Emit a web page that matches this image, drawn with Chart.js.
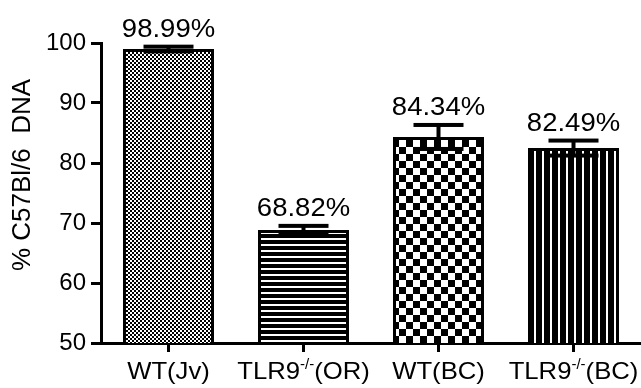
<!DOCTYPE html>
<html lang="en">
<head>
  <meta charset="UTF-8" />
  <title>% C57Bl/6 DNA</title>
  <script src="https://cdn.jsdelivr.net/npm/chart.js"></script>
  <style>
    body { margin: 0; background: #fff; }
    .wrap { width: 641px; height: 388px; position: relative; }
  </style>
</head>
<body>
  <div class="wrap"><canvas id="dnaChart"></canvas></div>

  <script>
    // data
    const groupNames = ['WT', 'TLR9', 'WT', 'TLR9'];
    const groupSups = ['', '-/-', '', '-/-'];
    const groupTails = ['(Jv)', '(OR)', '(BC)', '(BC)'];
    const percents = [98.99, 68.82, 84.34, 82.49];
    const sems = [0.4, 0.7, 2.0, 1.25];
    const yTicks = [50, 60, 70, 80, 90, 100];
    const yTitle = '% C57Bl/6  DNA';

    const FONT = "'Liberation Sans', Arial, sans-serif";
    const canvas = document.getElementById('dnaChart');

    function makePattern(w, h, draw) {
      const c = document.createElement('canvas');
      c.width = w; c.height = h;
      const g = c.getContext('2d');
      g.fillStyle = '#fff';
      g.fillRect(0, 0, w, h);
      g.fillStyle = '#000';
      draw(g);
      return canvas.getContext('2d').createPattern(c, 'repeat');
    }

    const fills = [
      makePattern(4, 4, g => { g.fillRect(0, 0, 2, 2); g.fillRect(2, 2, 2, 2); }),
      makePattern(6, 6, g => { g.fillRect(0, 0, 6, 4); }),
      makePattern(14, 14, g => { g.fillRect(0, 0, 7, 7); g.fillRect(7, 7, 7, 7); }),
      makePattern(8, 8, g => { g.fillRect(0, 0, 6, 8); })
    ];

    // error bars, value labels, category labels with superscripts, y title
    const annotate = {
      id: 'annotate',
      afterDatasetsDraw(chart) {
        const ctx = chart.ctx;
        const y = chart.scales.y;
        const meta = chart.getDatasetMeta(0);
        ctx.save();
        ctx.fillStyle = '#000';

        meta.data.forEach((bar, i) => {
          const top = y.getPixelForValue(percents[i] + sems[i]);
          const bot = y.getPixelForValue(percents[i] - sems[i]);
          ctx.fillRect(bar.x - 2, top, 4, bot - top);
          ctx.fillRect(bar.x - 25, top - 2, 50, 4);
          ctx.fillRect(bar.x - 25, bot - 2, 50, 4);

          ctx.save();
          ctx.translate(bar.x, top - 10);
          ctx.scale(1.1, 1);
          ctx.font = '25px ' + FONT;
          ctx.textAlign = 'center';
          ctx.textBaseline = 'alphabetic';
          ctx.fillText(percents[i].toFixed(2) + '%', 0, 0);
          ctx.restore();

          // category label
          const base = '24px ' + FONT, small = '14px ' + FONT;
          ctx.font = base;
          const w1 = ctx.measureText(groupNames[i]).width;
          const w3 = ctx.measureText(groupTails[i]).width;
          ctx.font = small;
          const w2 = groupSups[i] ? ctx.measureText(groupSups[i]).width : 0;
          const total = w1 + w2 + w3;
          ctx.save();
          ctx.translate(bar.x, 379);
          ctx.scale(1.07, 1);
          ctx.textAlign = 'left';
          let x = -total / 2;
          ctx.font = base;
          ctx.fillText(groupNames[i], x, 0);
          x += w1;
          if (groupSups[i]) {
            ctx.font = small;
            ctx.fillText(groupSups[i], x, -10);
            x += w2;
          }
          ctx.font = base;
          ctx.fillText(groupTails[i], x, 0);
          ctx.restore();
        });

        ctx.save();
        ctx.translate(23, 175);
        ctx.rotate(-Math.PI / 2);
        ctx.font = '26px ' + FONT;
        ctx.textAlign = 'center';
        ctx.textBaseline = 'middle';
        ctx.fillText(yTitle, 0, 0);
        ctx.restore();

        ctx.restore();
      }
    };

    new Chart(canvas, {
      type: 'bar',
      data: {
        labels: groupNames.map((n, i) => n + groupSups[i] + groupTails[i]),
        datasets: [{
          data: percents,
          backgroundColor: fills,
          borderColor: '#000',
          borderWidth: 3,
          borderSkipped: false,
          categoryPercentage: 1,
          barPercentage: 0.674
        }]
      },
      options: {
        responsive: true,
        maintainAspectRatio: false,
        animation: false,
        layout: { padding: { top: 43, left: 0, right: 0, bottom: 0 } },
        plugins: { legend: { display: false }, tooltip: { enabled: false } },
        scales: {
          x: {
            ticks: { display: false },
            grid: { offset: false, drawOnChartArea: false, drawTicks: true, tickLength: 9, tickWidth: 3, tickColor: '#000' },
            border: { color: '#000', width: 3 },
            afterFit: s => { s.height = 45; }
          },
          y: {
            min: 50,
            max: 100,
            afterBuildTicks: s => { s.ticks = yTicks.map(v => ({ value: v })); },
            ticks: { color: '#000', padding: 5, font: { family: FONT, size: 24 } },
            grid: { drawOnChartArea: false, drawTicks: true, tickLength: 10, tickWidth: 3, tickColor: '#000' },
            border: { color: '#000', width: 3 },
            afterFit: s => { s.width = 101; }
          }
        }
      },
      plugins: [annotate]
    });
  </script>
</body>
</html>
